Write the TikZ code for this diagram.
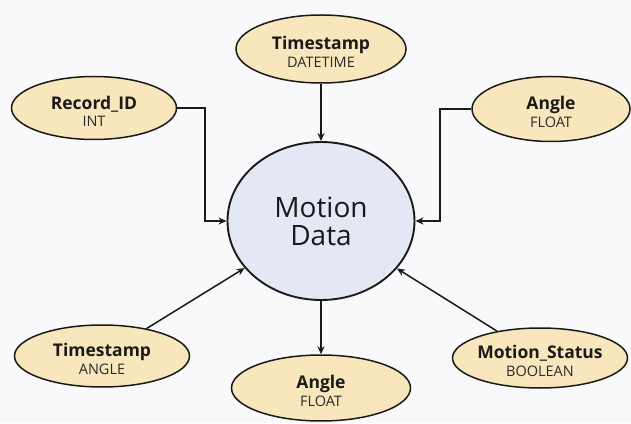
\documentclass[tikz,border=0pt]{standalone}
\usepackage{fontspec}
\setmainfont{Open Sans}
\usetikzlibrary{shapes.geometric,arrows.meta}
\definecolor{bgc}{HTML}{F9F9FB}
\definecolor{attrfill}{HTML}{F8E7BC}
\definecolor{mainfill}{HTML}{E3E8F4}
\definecolor{ink}{HTML}{1A1A1A}
\definecolor{subink}{HTML}{2A2A2A}
\tikzset{
  attr/.style={ellipse, draw=ink, line width=1.5pt, fill=attrfill, inner sep=0pt},
  mainent/.style={ellipse, draw=ink, line width=1.9pt, fill=mainfill, inner sep=0pt,
    minimum width=187pt, minimum height=158pt},
  conn/.style={draw=ink, line width=1.5pt, -{Stealth[length=8pt,width=7pt]}},
}
\newcommand{\attrtext}[2]{{\fontsize{17.5}{19}\selectfont\bfseries\color{ink}#1}\\[3pt]{\fontsize{14.5}{17}\selectfont\color{subink}#2}}
\begin{document}
\begin{tikzpicture}[x=1pt,y=1pt]
\fill[bgc] (0,0) rectangle (631,423);
\useasboundingbox (0,0) rectangle (631,423);

\node[mainent, align=center, font=\fontsize{28}{28}\selectfont, text=ink] (md) at (321,202) {Motion\\Data};

\node[attr, minimum width=170pt, minimum height=68pt,
  label={[align=center, yshift=-3pt]center:\attrtext{Timestamp}{DATETIME}}] (ts) at (321,374) {};
\node[attr, minimum width=165pt, minimum height=63pt,
  label={[align=center, yshift=-3pt]center:\attrtext{Record\_ID}{INT}}] (rid) at (94,315) {};
\node[attr, minimum width=158pt, minimum height=65pt,
  label={[align=center, yshift=-3pt]center:\attrtext{Angle}{FLOAT}}] (angr) at (551,314) {};
\node[attr, minimum width=175pt, minimum height=62pt,
  label={[align=center, yshift=-3pt]center:\attrtext{Timestamp}{ANGLE}}] (tsa) at (102,67) {};
\node[attr, minimum width=175pt, minimum height=60pt,
  label={[align=center, yshift=-3pt]center:\attrtext{Motion\_Status}{BOOLEAN}}] (ms) at (540,65) {};
\node[attr, minimum width=179pt, minimum height=66pt,
  label={[align=center, yshift=-3pt]center:\attrtext{Angle}{FLOAT}}] (angb) at (321,35) {};

\coordinate (rk) at (205,202);
\coordinate (ak) at (440,202);

\draw[conn] (ts) -- (md);
\draw[conn] (rid.east) -| (rk) -- (md.west);
\draw[conn] (angr.west) -| (ak) -- (md.east);
\draw[conn] (tsa) -- (md);
\draw[conn] (ms) -- (md);
\draw[conn] (md) -- (angb);
\end{tikzpicture}
\end{document}
